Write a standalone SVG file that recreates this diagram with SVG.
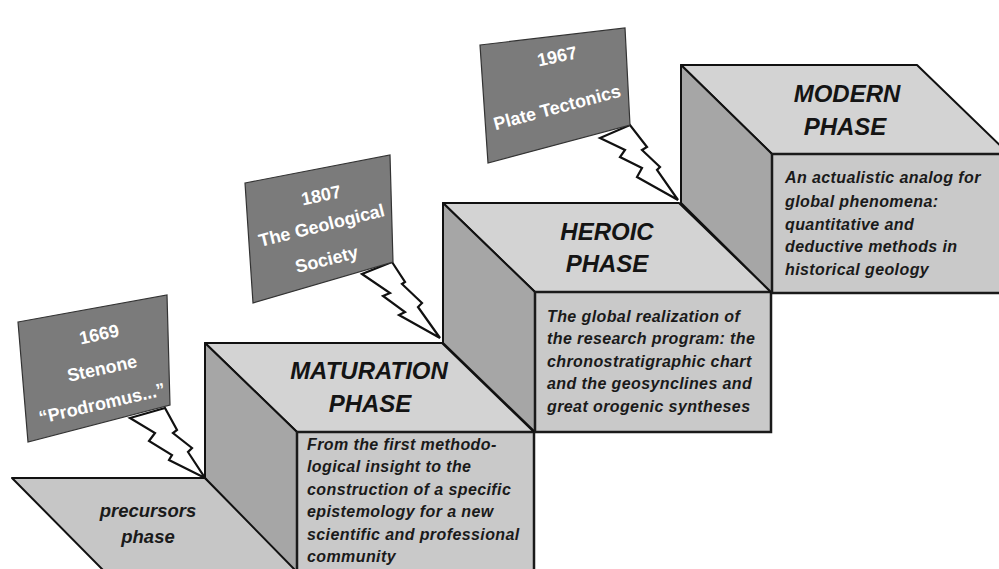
<svg xmlns="http://www.w3.org/2000/svg" width="999" height="569" viewBox="0 0 999 569">
<style>
.top{fill:#d3d3d3;stroke:#111;stroke-width:2;stroke-linejoin:round}
.side{fill:#a6a6a6;stroke:#111;stroke-width:2;stroke-linejoin:round}
.front{fill:#c9c9c9;stroke:#1a1a1a;stroke-width:2.5}
.floor{fill:#c6c6c6;stroke:#111;stroke-width:2;stroke-linejoin:round}
.sign{fill:#7b7b7b;stroke:#333;stroke-width:1.2}
.bolt{fill:#fff;stroke:#111;stroke-width:2.2;stroke-linejoin:miter}
.title{font-family:"Liberation Sans",Arial,sans-serif;font-weight:bold;font-style:italic;font-size:24px;fill:#141414;text-anchor:middle}
.body{font-family:"Liberation Sans",Arial,sans-serif;font-weight:bold;font-style:italic;font-size:16px;letter-spacing:0.4px;fill:#1a1a1a}
.pre{font-family:"Liberation Sans",Arial,sans-serif;font-weight:bold;font-style:italic;font-size:18.5px;fill:#1a1a1a;text-anchor:middle}
.st{font-family:"Liberation Sans",Arial,sans-serif;font-weight:bold;font-size:18px;fill:#fff;text-anchor:middle}
</style>
<rect width="999" height="569" fill="#fff"/>

<g id="precursors">
<polygon class="floor" points="12,478 205,478 297,570 103,570"/>
<text class="pre" x="148" y="517">precursors</text>
<text class="pre" x="148" y="543">phase</text>
</g>

<g id="maturation">
<polygon class="top" points="205,343 442,343 534,432 297,432"/>
<polygon class="side" points="205,343 297,432 297,572 205,478"/>
<rect class="front" x="297" y="432" width="237" height="142"/>
<text class="title" x="369" y="379">MATURATION</text>
<text class="title" x="370" y="412">PHASE</text>
<text class="body" x="307" y="450">From the first methodo-</text>
<text class="body" x="307" y="472">logical insight to the</text>
<text class="body" x="307" y="495">construction of a specific</text>
<text class="body" x="307" y="517">epistemology for a new</text>
<text class="body" x="307" y="540">scientific and professional</text>
<text class="body" x="307" y="562">community</text>
</g>

<g id="heroic">
<polygon class="top" points="443,203 679,203 771,292 535,292"/>
<polygon class="side" points="443,203 535,292 535,432 443,343"/>
<rect class="front" x="535" y="292" width="236" height="140"/>
<text class="title" x="607" y="240">HEROIC</text>
<text class="title" x="607" y="272">PHASE</text>
<text class="body" x="547" y="322">The global realization of</text>
<text class="body" x="547" y="344">the research program: the</text>
<text class="body" x="547" y="367">chronostratigraphic chart</text>
<text class="body" x="547" y="389">and the geosynclines and</text>
<text class="body" x="547" y="412">great orogenic syntheses</text>
</g>

<g id="modern">
<polygon class="top" points="681,65 917,65 1009,154 772,154"/>
<polygon class="side" points="681,65 772,154 772,293 681,203"/>
<rect class="front" x="772" y="154" width="237" height="139"/>
<text class="title" x="847" y="102">MODERN</text>
<text class="title" x="845" y="135">PHASE</text>
<text class="body" x="785" y="183">An actualistic analog for</text>
<text class="body" x="785" y="207">global phenomena:</text>
<text class="body" x="785" y="230">quantitative and</text>
<text class="body" x="785" y="252">deductive methods in</text>
<text class="body" x="785" y="275">historical geology</text>
</g>

<g id="connectors">
<polygon class="bolt" points="130,418 155,433 149,441 172,455 169,460 205,478 188,452 192,448 173,433 177,430 165,408"/>
<polygon class="bolt" points="362,274 390,293 383,296 405,312 399,315 440,338 418,307 422,303 402,284 405,282 392,262"/>
<polygon class="bolt" points="600,138 625,150 620,157 642,168 637,177 678,200 657,170 660,167 642,150 647,147 630,125"/>
</g>

<g id="sign-1669">
<polygon class="sign" points="18,322 167,295 170,405 28,442"/>
<text class="st" transform="translate(99,334) rotate(-12)" y="6.5">1669</text>
<text class="st" transform="translate(102,368) rotate(-12)" y="6.5">Stenone</text>
<text class="st" transform="translate(102,403) rotate(-13)" y="6.5">“Prodromus...”</text>
</g>

<g id="sign-1807">
<polygon class="sign" points="245,183 390,155 393,262 253,303"/>
<text class="st" transform="translate(321,195) rotate(-12)" y="6.5">1807</text>
<text class="st" transform="translate(322,227) rotate(-14)" y="4.5">The Geological</text>
<text class="st" transform="translate(327,261) rotate(-14)" y="4.5">Society</text>
</g>

<g id="sign-1967">
<polygon class="sign" points="480,45 625,28 630,125 488,163"/>
<text class="st" transform="translate(557,56) rotate(-12)" y="6.5">1967</text>
<text class="st" transform="translate(557,107) rotate(-15)" y="6.5">Plate Tectonics</text>
</g>
</svg>
